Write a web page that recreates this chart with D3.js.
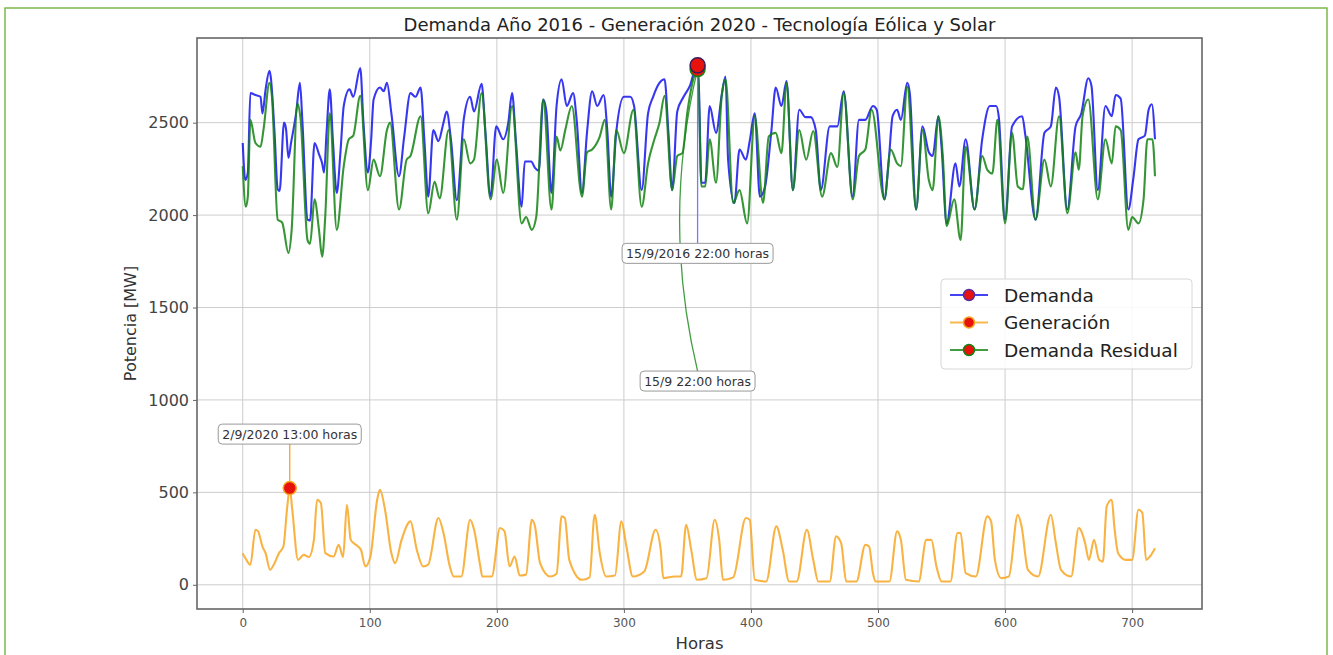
<!DOCTYPE html>
<html>
<head>
<meta charset="utf-8">
<script src="https://cdn.jsdelivr.net/npm/d3@7"></script>
<style>
  body { margin: 0; background: #fff; }
  svg { font-family: "DejaVu Sans", sans-serif; }
</style>
</head>
<body>
<div id="chart"></div>
<script>
// Data: [hour, MW]
var demanda = [[0,2390],[2,2190],[4,2230],[6,2660],[10,2650],[14,2640],[15.5,2550],[18,2680],[21,2780],[22,2750],[25,2450],[27.5,2140],[29,2130],[32.5,2500],[34,2470],[36,2310],[38,2390],[42,2550],[45,2715],[47,2500],[51,1975],[53,1970],[56.5,2390],[60,2330],[62.5,2280],[64,2230],[66,2450],[68.5,2680],[71,2400],[74,2120],[77,2350],[79.5,2590],[84,2680],[87,2640],[92.5,2796],[95,2500],[98.5,2230],[101,2400],[103,2625],[108,2690],[111,2670],[113.5,2715],[117,2550],[123,2210],[127,2420],[132,2660],[136,2640],[140,2690],[143,2400],[146,2100],[150,2460],[154,2400],[158,2500],[160.5,2560],[164,2400],[168.5,2080],[174,2520],[179,2640],[182,2560],[188,2710],[191,2450],[195,2100],[199.5,2480],[205,2410],[209,2500],[212,2660],[215,2400],[219.5,2045],[222,2290],[227,2290],[230,2255],[233,2240],[236.5,2625],[239,2560],[243,2120],[247,2590],[251,2735],[255,2590],[260,2660],[263,2500],[267,2120],[271,2450],[275,2670],[279,2590],[284,2650],[287,2450],[290,2100],[294,2450],[300,2640],[305,2640],[308,2590],[314,2135],[319,2550],[323,2640],[328,2715],[332,2735],[335,2450],[338,2135],[342,2560],[347,2640],[352,2700],[356,2790],[358,2810],[359,2700],[361,2175],[364,2175],[367.5,2590],[372.5,2445],[377,2650],[380,2750],[382,2300],[387,2065],[391,2355],[396,2300],[399,2400],[403,2550],[407,2100],[411,2150],[416,2450],[419.5,2690],[424,2590],[428,2725],[433,2135],[438,2570],[443,2530],[447,2530],[451,2460],[455,2135],[462,2480],[468,2480],[473,2670],[480,2100],[485,2515],[490,2515],[496,2590],[499,2570],[505,2085],[508.5,2300],[511.5,2535],[515,2570],[518,2515],[523,2715],[525,2660],[530,2030],[535,2480],[540,2340],[543,2320],[547.5,2535],[550,2370],[554,1955],[561,2280],[564,2155],[569,2410],[576,2030],[582,2410],[588,2590],[593,2590],[595,2535],[600,1975],[605.5,2480],[613.5,2535],[616,2430],[624,1975],[631,2445],[636,2480],[640,2690],[642.5,2640],[649,2030],[655.5,2480],[660,2550],[665.5,2740],[668,2700],[673,2135],[679,2590],[684,2535],[687,2650],[691,2630],[697,2030],[701,2200],[705,2410],[710,2430],[713,2570],[715.5,2600],[718,2410]];

var generacion = [[0,170],[2,145],[6,108],[10,298],[12,290],[15.5,207],[18,171],[21.5,81],[25,117],[28.5,171],[32,207],[35,420],[37,523],[39,405],[43.5,135],[48,162],[52,150],[56,243],[58.5,460],[61.5,442],[65,171],[71.5,153],[75.5,216],[79,150],[82,433],[85,243],[87.5,225],[93,189],[96.5,99],[100.5,153],[105.8,460],[108,514],[112,406],[117,171],[120,117],[125,243],[132,343],[137,189],[142,99],[146,110],[154,361],[158,280],[163,99],[166,45],[172,45],[179,352],[182,300],[187,99],[188.5,45],[196,45],[202.5,307],[206,290],[210,99],[214,153],[218,50],[223,55],[227.5,352],[230,316],[234,117],[242,45],[247,60],[251,370],[253.5,361],[257,135],[267,27],[273,40],[277,379],[281,171],[286,45],[293,50],[298,343],[302,207],[307,45],[316,72],[325,298],[329,189],[331,36],[340,45],[345,45],[349,325],[353,189],[357.5,27],[365,35],[371.5,352],[375,243],[378,27],[386,40],[396,361],[399,352],[403,27],[412,18],[420,316],[425,189],[430,18],[436,18],[444,298],[449,135],[453,18],[462,18],[467,262],[471,225],[475,18],[483,18],[490,216],[493,207],[496,63],[498,18],[509,18],[515,289],[518,243],[522,27],[532,18],[538,243],[542,243],[546,99],[550,18],[557,18],[562.6,280],[565,280],[569,63],[577,45],[586,370],[589,343],[592,135],[597,36],[603,45],[610,379],[613,316],[618,81],[626,45],[636,379],[640,225],[644,81],[652,45],[658,307],[663,225],[666,135],[670,243],[674,135],[677,125],[680,424],[684,460],[686,316],[689,171],[695,135],[700,135],[705,406],[708,390],[711,135],[714,153],[718,198]];

var residual = [[0,2265],[2.4,2045],[4,2100],[6,2515],[10,2390],[14,2370],[16.5,2470],[21,2715],[23,2640],[27.5,1975],[31,1960],[36,1795],[38.5,1920],[43,2605],[45.5,2520],[51,1865],[53,1845],[56.5,2085],[60,1920],[62.5,1775],[65,2000],[68.5,2550],[74,1920],[79.5,2265],[83.5,2410],[87,2430],[92.5,2645],[98.5,2135],[103,2300],[108,2210],[113.5,2460],[116,2500],[123,2030],[129,2300],[132,2320],[140,2535],[146,2010],[151,2180],[155,2090],[162,2460],[168.5,1975],[174,2410],[179,2280],[182,2300],[188,2660],[195,2085],[200,2300],[205,2120],[212,2590],[219.5,1955],[223,1990],[227.5,1920],[231,1990],[236.5,2625],[243,2030],[247,2425],[250,2350],[254,2465],[259,2590],[267,2100],[271,2340],[275,2355],[281,2425],[285,2515],[290,2030],[294,2460],[300,2335],[307.5,2570],[314,2045],[319,2280],[324,2410],[328,2500],[332,2645],[338,2135],[342,2320],[346,2335],[350,2560],[356,2765],[358,2790],[359,2650],[361,2155],[364,2155],[367.5,2410],[372.5,2175],[377,2645],[380,2735],[386,2065],[391,2135],[397,1955],[403,2535],[409.5,2065],[414,2425],[419.5,2445],[424,2335],[428,2715],[433,2135],[438,2460],[443.5,2300],[449,2455],[456,2100],[463,2335],[468,2260],[473,2660],[480,2085],[485,2320],[490,2355],[495,2570],[505,2085],[510,2355],[515,2280],[518,2265],[523,2695],[530,2030],[535,2460],[540,2190],[543,2135],[547.5,2535],[551,2320],[554,1940],[560,2085],[565,1865],[569,2370],[576,2030],[582,2320],[586,2245],[590,2225],[594,2515],[600,1955],[605.5,2445],[610,2155],[614,2140],[617.5,2425],[624,1975],[631,2300],[636,2155],[642.5,2535],[649,2010],[655.5,2340],[658,2245],[661,2535],[665.5,2625],[673,2085],[679,2410],[684,2280],[687,2480],[691,2460],[697,1920],[700,1990],[705,1955],[709,2085],[712,2410],[716,2410],[718,2210]];

var seriesNames = ["Demanda", "Generación", "Demanda Residual"];
var peakLabels = ["15/9/2016 22:00 horas", "2/9/2020 13:00 horas", "15/9 22:00 horas"];
var xTicks = [0, 100, 200, 300, 400, 500, 600, 700];
var yTicks = [0, 500, 1000, 1500, 2000, 2500];

var colors = ["#1414ee", "#f7a622", "#138413"];

var svgWidth = 1333;
var svgHeight = 655;

var margin = {
  top: 38,
  right: 131,
  bottom: 46,
  left: 197
};

var width = svgWidth - margin.left - margin.right;
var height = svgHeight - margin.top - margin.bottom;

var svg = d3.select("#chart")
  .append("svg")
  .attr("width", svgWidth)
  .attr("height", svgHeight);

// green frame round the figure
svg.append("rect")
  .attr("x", 5).attr("y", 8)
  .attr("width", 1322).attr("height", 660)
  .attr("fill", "none")
  .attr("stroke", "#7cb84a")
  .attr("stroke-width", 1.5);

var chartGroup = svg.append("g")
  .attr("transform", `translate(${margin.left}, ${margin.top})`);

var xScale = d3.scaleLinear().domain([-36, 755]).range([0, width]);
var yScale = d3.scaleLinear().domain([-131, 2958]).range([height, 0]);

// grid
chartGroup.append("g")
  .selectAll("line")
  .data(xTicks)
  .enter()
  .append("line")
  .attr("x1", d => xScale(d)).attr("x2", d => xScale(d))
  .attr("y1", 0).attr("y2", height)
  .attr("stroke", "#cdcdcd");

chartGroup.append("g")
  .selectAll("line")
  .data(yTicks)
  .enter()
  .append("line")
  .attr("x1", 0).attr("x2", width)
  .attr("y1", d => yScale(d)).attr("y2", d => yScale(d))
  .attr("stroke", "#cdcdcd");

// axes
var bottomAxis = d3.axisBottom(xScale).tickValues(xTicks).tickSize(4).tickPadding(5).tickFormat(d3.format("d"));
var leftAxis = d3.axisLeft(yScale).tickValues(yTicks).tickSize(4).tickPadding(4).tickFormat(d3.format("d"));

var xAxisG = chartGroup.append("g")
  .attr("transform", `translate(0, ${height})`)
  .call(bottomAxis);
xAxisG.selectAll("text").attr("font-size", 12).attr("fill", "#555").attr("font-family", "DejaVu Sans");

var yAxisG = chartGroup.append("g").call(leftAxis);
yAxisG.selectAll("text").attr("font-size", 16).attr("fill", "#444").attr("font-family", "DejaVu Sans");

[xAxisG, yAxisG].forEach(function(g) {
  g.select(".domain").remove();
  g.selectAll("line").attr("stroke", "#666");
});

// lines
var line = d3.line()
  .x(d => xScale(d[0]))
  .y(d => yScale(d[1]))
  .curve(d3.curveMonotoneX);

var allSeries = [demanda, generacion, residual];

chartGroup.selectAll("path.serie")
  .data(allSeries)
  .enter()
  .append("path")
  .attr("class", "serie")
  .attr("d", line)
  .attr("fill", "none")
  .attr("stroke", (d, i) => colors[i])
  .attr("stroke-width", 2.1)
  .attr("stroke-opacity", 0.85)
  .attr("stroke-linejoin", "round");

// spines
chartGroup.append("rect")
  .attr("width", width).attr("height", height)
  .attr("fill", "none")
  .attr("stroke", "#666")
  .attr("stroke-width", 1.6);

// peaks
var peaks = allSeries.map(s => d3.greatest(s, d => d[1]));

// label offsets (px from the peak point)
var labelDy = [188, -54, 312];

function drawLabel(text, cx, cy) {
  var g = chartGroup.append("g");
  var t = g.append("text")
    .attr("x", cx).attr("y", cy)
    .attr("text-anchor", "middle")
    .attr("dominant-baseline", "central")
    .attr("font-size", 12.5)
    .attr("fill", "#333")
    .text(text);
  var bb = t.node().getBBox();
  g.insert("rect", "text")
    .attr("x", bb.x - 4).attr("y", cy - 10)
    .attr("width", bb.width + 8).attr("height", 20)
    .attr("rx", 4)
    .attr("fill", "#fff")
    .attr("stroke", "#999")
    .attr("stroke-width", 1);
}

// connectors
peaks.forEach(function(p, i) {
  var px = xScale(p[0]), py = yScale(p[1]);
  var ly = py + labelDy[i] + (labelDy[i] > 0 ? -10 : 10);
  if (i === 2) {
    var path = d3.path();
    path.moveTo(px, py);
    path.quadraticCurveTo(px - 36, (py + ly) / 2, px, ly);
    chartGroup.append("path")
      .attr("d", path.toString())
      .attr("fill", "none")
      .attr("stroke", colors[i])
      .attr("stroke-opacity", 0.8)
      .attr("stroke-width", 1.3);
  } else {
    chartGroup.append("line")
      .attr("x1", px).attr("y1", py)
      .attr("x2", px).attr("y2", ly)
      .attr("stroke", i === 0 ? "#7878f8" : colors[i])
      .attr("stroke-width", 1.3);
  }
});

// markers (residual under demand)
[2, 0, 1].forEach(function(i) {
  var p = peaks[i];
  chartGroup.append("circle")
    .attr("cx", xScale(p[0])).attr("cy", yScale(p[1]))
    .attr("r", i === 1 ? 6.5 : 7.5)
    .attr("fill", "#e8120c")
    .attr("stroke", i === 0 ? "#3a1a5a" : colors[i])
    .attr("stroke-width", 1.5);
});

peaks.forEach(function(p, i) {
  drawLabel(peakLabels[i], xScale(p[0]), yScale(p[1]) + labelDy[i]);
});

// title and axis labels
svg.append("text")
  .attr("x", margin.left + width / 2)
  .attr("y", 31)
  .attr("text-anchor", "middle")
  .attr("font-size", 18)
  .attr("fill", "#222")
  .text("Demanda Año 2016 - Generación 2020 - Tecnología Eólica y Solar");

svg.append("text")
  .attr("x", margin.left + width / 2)
  .attr("y", 649)
  .attr("text-anchor", "middle")
  .attr("font-size", 16.5)
  .attr("fill", "#333")
  .text("Horas");

svg.append("text")
  .attr("transform", `translate(136, ${margin.top + height / 2}) rotate(-90)`)
  .attr("text-anchor", "middle")
  .attr("font-size", 16)
  .attr("fill", "#333")
  .text("Potencia [MW]");

// legend
var legend = svg.append("g").attr("transform", "translate(941, 279)");
legend.append("rect")
  .attr("width", 251).attr("height", 90)
  .attr("rx", 4)
  .attr("fill", "#fff")
  .attr("fill-opacity", 0.85)
  .attr("stroke", "#d8d8d8");

var rows = legend.selectAll("g.row")
  .data(seriesNames)
  .enter()
  .append("g")
  .attr("transform", (d, i) => `translate(0, ${16 + i * 27.5})`);

rows.append("line")
  .attr("x1", 9).attr("x2", 47)
  .attr("stroke", (d, i) => colors[i])
  .attr("stroke-opacity", 0.8)
  .attr("stroke-width", 2);

rows.append("circle")
  .attr("cx", 28).attr("r", 5.5)
  .attr("fill", "#e8120c")
  .attr("stroke", (d, i) => i === 0 ? "#5a2aa0" : colors[i])
  .attr("stroke-width", 1.5);

rows.append("text")
  .attr("x", 63)
  .attr("dominant-baseline", "central")
  .attr("font-size", 18.5)
  .attr("fill", "#222")
  .text(d => d);
</script>
</body>
</html>
